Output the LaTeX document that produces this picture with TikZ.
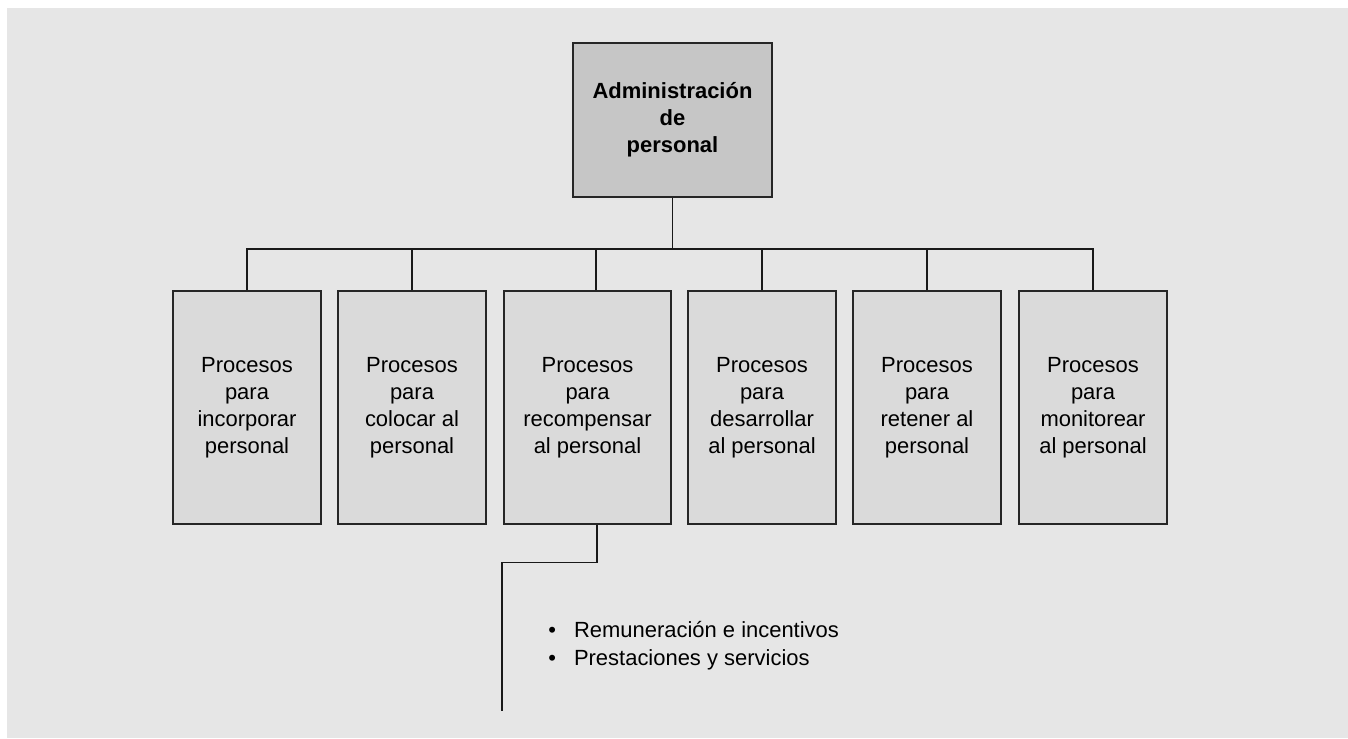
\documentclass[tikz,border=0pt]{standalone}
\usepackage{fontspec}
\setmainfont{Liberation Sans}
\usetikzlibrary{positioning}
\definecolor{bggray}{HTML}{E6E6E6}
\definecolor{headgray}{HTML}{C6C6C6}
\definecolor{procgray}{HTML}{DADADA}
\begin{document}
\begin{tikzpicture}[
    x=0.02cm, y=-0.02cm,
    box/.style={rectangle, draw=black!85, line width=0.8pt, inner sep=0pt, align=center,
                font=\fontsize{12.5}{15.4}\selectfont},
    headbox/.style={box, fill=headgray, minimum width=3.98cm, minimum height=3.08cm,
                font=\fontsize{12.5}{15.4}\selectfont\bfseries},
    procbox/.style={box, fill=procgray, minimum width=2.96cm, minimum height=4.66cm},
    conn/.style={draw=black!90, line width=0.7pt}
]
\useasboundingbox (0,0) rectangle (1348,738);
\fill[bggray] (7,8) rectangle (1348,738);

\node[headbox] (admin) at (672.5,120) {Administración\\de\\personal};

\node[procbox] (p1) at (247,407.5) {Procesos\\para\\incorporar\\personal};
\node[procbox] (p2) at (412,407.5) {Procesos\\para\\colocar al\\personal};
\node[procbox, minimum width=3.34cm] (p3) at (587.5,407.5) {Procesos\\para\\recompensar\\al personal};
\node[procbox] (p4) at (762,407.5) {Procesos\\para\\desarrollar\\al personal};
\node[procbox] (p5) at (927,407.5) {Procesos\\para\\retener al\\personal};
\node[procbox] (p6) at (1093,407.5) {Procesos\\para\\monitorear\\al personal};

\node[anchor=base west, inner sep=0pt, align=left, font=\fontsize{12.5}{15.4}\selectfont]
    (items) at (548,665) {\textbullet\hspace{0.36cm}Remuneración e incentivos\\\textbullet\hspace{0.36cm}Prestaciones y servicios};

\coordinate (bus) at (672.5,249);
\coordinate (listend) at (502,711);

\draw[conn] (admin) -- (bus);
\draw[conn] (p1.north) |- (bus) -| (p6.north);
\draw[conn] (p2.north) -- (p2.north |- bus);
\draw[conn] ([xshift=0.17cm]p3.north) -- ([xshift=0.17cm]p3.north |- bus);
\draw[conn] (p4.north) -- (p4.north |- bus);
\draw[conn] (p5.north) -- (p5.north |- bus);
\draw[conn] ([xshift=0.19cm]p3.south) -- ++(0,38) -| (listend);
\end{tikzpicture}
\end{document}
